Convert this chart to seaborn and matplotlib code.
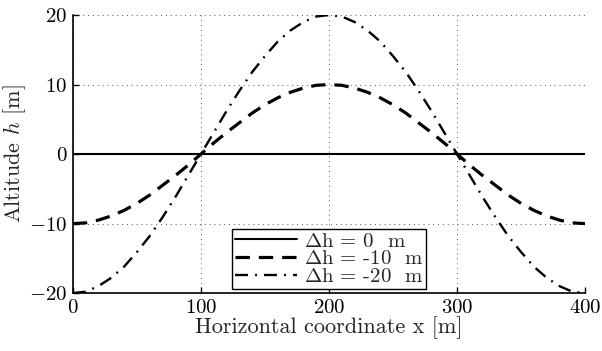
import matplotlib
matplotlib.use("Agg")
import matplotlib.pyplot as plt
import seaborn as sns
import pandas as pd

x_m = list(range(0, 401, 10))
h_0 = [0.0] * 41
h_10 = [-10.0, -9.9, -9.5, -8.9, -8.1, -7.1, -5.9, -4.5, -3.1, -1.6,
        0.0, 1.6, 3.1, 4.5, 5.9, 7.1, 8.1, 8.9, 9.5, 9.9,
        10.0, 9.9, 9.5, 8.9, 8.1, 7.1, 5.9, 4.5, 3.1, 1.6,
        0.0, -1.6, -3.1, -4.5, -5.9, -7.1, -8.1, -8.9, -9.5, -9.9, -10.0]
h_20 = [-20.0, -19.8, -19.0, -17.8, -16.2, -14.1, -11.8, -9.1, -6.2, -3.1,
        0.0, 3.1, 6.2, 9.1, 11.8, 14.1, 16.2, 17.8, 19.0, 19.8,
        20.0, 19.8, 19.0, 17.8, 16.2, 14.1, 11.8, 9.1, 6.2, 3.1,
        0.0, -3.1, -6.2, -9.1, -11.8, -14.1, -16.2, -17.8, -19.0, -19.8, -20.0]
labels = [r"$\Delta$h = 0  m", r"$\Delta$h = -10  m", r"$\Delta$h = -20  m"]
x_ticks = [0, 100, 200, 300, 400]
y_ticks = [-20, -10, 0, 10, 20]

sns.set_style("white")
plt.rcParams["font.family"] = ["cmr10", "DejaVu Serif"]
plt.rcParams["mathtext.fontset"] = "cm"
plt.rcParams["axes.formatter.use_mathtext"] = True
plt.rcParams["axes.unicode_minus"] = True

fig = plt.figure(figsize=(6.02, 3.51), dpi=100)
ax = fig.add_axes([0.121, 0.165, 0.851, 0.792])

styles = [dict(lw=1.5, ls="-"),
          dict(lw=2.3, dashes=(4.5, 2.8)),
          dict(lw=1.7, dashes=(5.5, 3, 0.8, 3))]
for h, lab, st in zip([h_0, h_10, h_20], labels, styles):
    df = pd.DataFrame({"x": x_m, "h": h})
    sns.lineplot(data=df, x="x", y="h", ax=ax, color="black", label=lab, **st)

ax.set_xlim(0, 400)
ax.set_ylim(-20, 20)
ax.set_xticks(x_ticks)
ax.set_yticks(y_ticks)
ax.grid(True, linestyle=(0, (1, 4)), color="#555555", linewidth=0.7)
for s in ["top", "right"]:
    ax.spines[s].set_visible(False)
for s in ["left", "bottom"]:
    ax.spines[s].set_color("black")
    ax.spines[s].set_linewidth(1.2)
ax.tick_params(direction="in", length=4, width=1, colors="black", labelsize=15,
               left=True, bottom=True, pad=4)
ax.set_xlabel("Horizontal coordinate x [m]", fontsize=16, labelpad=0)
ax.set_ylabel(r"Altitude $h$ [m]", fontsize=16, labelpad=1)

leg = ax.legend(loc="lower center", fontsize=15, frameon=True, fancybox=False,
                edgecolor="black", framealpha=1, borderpad=0.15, labelspacing=-0.05,
                handlelength=3.0, handletextpad=0.3, borderaxespad=0.2)
leg.get_frame().set_linewidth(1.0)

fig.savefig("out.png", dpi=100)
